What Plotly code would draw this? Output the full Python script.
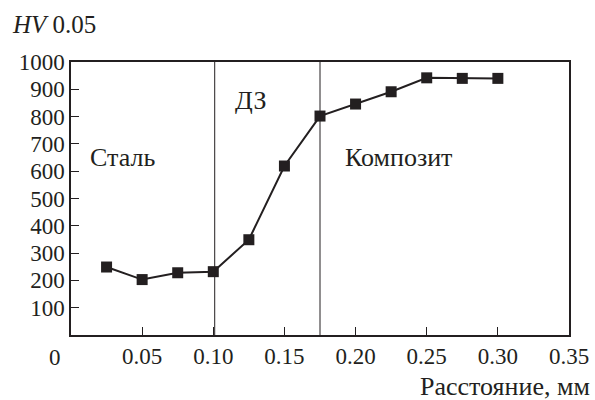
import plotly.graph_objects as go

distance_mm = [0.025, 0.05, 0.075, 0.10, 0.125, 0.15, 0.175, 0.20, 0.225, 0.25, 0.275, 0.30]
hardness_hv = [249, 203, 228, 232, 349, 619, 802, 846, 891, 942, 940, 940]
boundaries_mm = [0.101, 0.175]
x_tick_vals = [0.05, 0.10, 0.15, 0.20, 0.25, 0.30, 0.35]
x_tick_text = ["0.05", "0.10", "0.15", "0.20", "0.25", "0.30", "0.35"]
y_tick_vals = [100, 200, 300, 400, 500, 600, 700, 800, 900, 1000]

INK = "#231f20"
FONT = "'Times New Roman', 'Liberation Serif', 'DejaVu Serif', serif"
TICK_SIZE = 23
TEXT_SIZE = 26

fig = go.Figure()
fig.add_trace(go.Scatter(
    x=distance_mm, y=hardness_hv, mode="lines+markers",
    line=dict(color=INK, width=2),
    marker=dict(symbol="square", size=11, color=INK),
    showlegend=False, cliponaxis=False,
))

for b in boundaries_mm:
    fig.add_shape(type="line", xref="x", yref="y", x0=b, x1=b, y0=0, y1=1000,
                  line=dict(color=INK, width=1))

fig.update_layout(
    template="none",
    width=595, height=400,
    margin=dict(l=71, r=26, t=62, b=65, autoexpand=False),
    paper_bgcolor="white", plot_bgcolor="white",
    font=dict(family=FONT, size=TICK_SIZE, color=INK),
    xaxis=dict(range=[0, 0.35], tickvals=x_tick_vals, ticktext=x_tick_text,
               ticks="inside", ticklen=8, tickwidth=1.2, tickcolor=INK,
               showline=True, linecolor=INK, linewidth=1.5, mirror=True,
               showgrid=False, zeroline=False, automargin=False,
               tickfont=dict(family=FONT, size=TICK_SIZE, color=INK)),
    yaxis=dict(range=[0, 1000], tickvals=y_tick_vals,
               ticks="inside", ticklen=8, tickwidth=1.2, tickcolor=INK,
               showline=True, linecolor=INK, linewidth=1.5, mirror=True,
               showgrid=False, zeroline=False, automargin=False,
               tickfont=dict(family=FONT, size=TICK_SIZE, color=INK)),
)

ann = [
    dict(text="Сталь", x=0.0119, y=652, xref="x", yref="y", xanchor="left", yanchor="middle", size=TEXT_SIZE),
    dict(text="ДЗ", x=0.1138, y=860, xref="x", yref="y", xanchor="left", yanchor="middle", size=TEXT_SIZE),
    dict(text="Композит", x=0.1912, y=652, xref="x", yref="y", xanchor="left", yanchor="middle", size=TEXT_SIZE),
    dict(text="0", x=(55 - 71) / 498, y=(335 - 357) / 273, xref="paper", yref="paper",
         xanchor="center", yanchor="middle", size=TICK_SIZE),
    dict(text="<i>HV</i> 0.05", x=(10 - 71) / 498, y=(335 - 24) / 273, xref="paper", yref="paper",
         xanchor="left", yanchor="middle", size=25),
    dict(text="Расстояние, мм", x=(592 - 71) / 498, y=(335 - 386) / 273, xref="paper", yref="paper",
         xanchor="right", yanchor="middle", size=TEXT_SIZE),
]
for a in ann:
    s = a.pop("size")
    fig.add_annotation(showarrow=False, font=dict(family=FONT, size=s, color=INK), **a)

fig.write_html("out.html", config={"displayModeBar": False},
               post_script="document.body.style.margin='0';document.body.style.padding='0';")
